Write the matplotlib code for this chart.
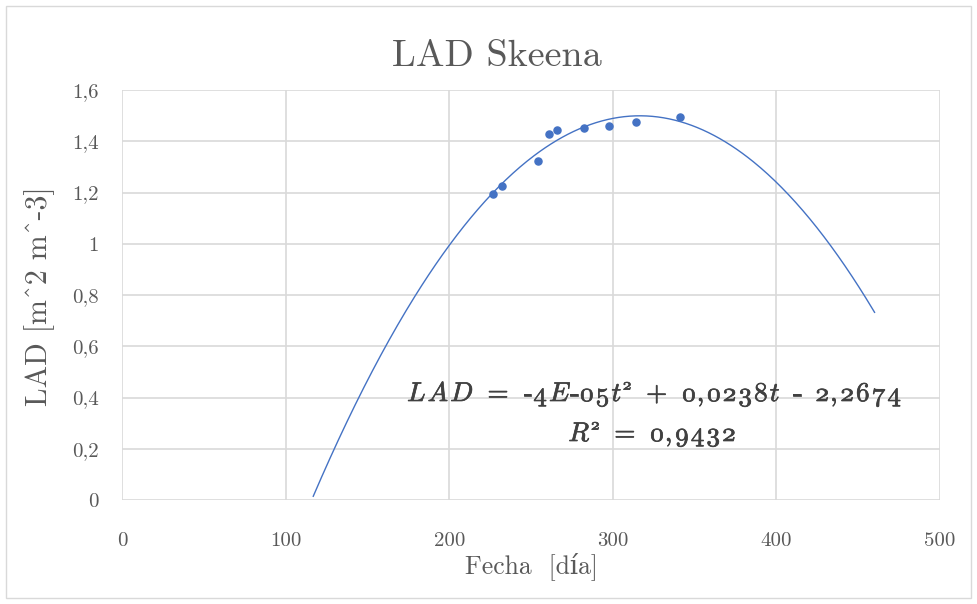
import numpy as np
import matplotlib
matplotlib.use("Agg")
import matplotlib.pyplot as plt
import matplotlib.patheffects as pe
from matplotlib.patches import Rectangle

# datos
fecha = [226.9, 232.3, 254.5, 261.0, 266.1, 282.4, 297.5, 314.0, 341.0]
lad = [1.194, 1.227, 1.323, 1.428, 1.444, 1.453, 1.459, 1.474, 1.496]

x_ticks = [0, 100, 200, 300, 400, 500]
y_ticks = [0, 0.2, 0.4, 0.6, 0.8, 1.0, 1.2, 1.4, 1.6]
y_tick_labels = ["0", "0,2", "0,4", "0,6", "0,8", "1", "1,2", "1,4", "1,6"]

# ecuacion de la linea de tendencia (texto, fuente, superindice, espacio antes en em)
IT, RM = 'cmmi10', 'cmr10'
ecuacion_1 = [("LAD", IT, False, 0), ("=", RM, False, 0.55), ("-", RM, False, 0.55),
              ("4E", IT, False, 0.04), ("-", RM, False, 0.04), ("05t", IT, False, 0.04),
              ("2", IT, True, 0.06), ("+", RM, False, 0.55), ("0", IT, False, 0.55),
              (",", RM, False, 0.04), ("0238t", IT, False, 0.1), ("-", RM, False, 0.5),
              ("2", IT, False, 0.5), (",", RM, False, 0.04), ("2674", IT, False, 0.1)]
ecuacion_2 = [("R", IT, False, 0), ("2", IT, True, 0.08), ("=", RM, False, 0.55),
              ("0", IT, False, 0.55), (",", RM, False, 0.04), ("9432", IT, False, 0.1)]

plt.rcParams['font.family'] = ['cmr10', 'DejaVu Serif']
plt.rcParams['axes.unicode_minus'] = False

gris = '#595959'
oscuro = '#404040'
azul = '#4472C4'
rejilla = '#d9d9d9'
W, H = 977, 604

fig = plt.figure(figsize=(W / 100, H / 100), dpi=100)
fig.patches.append(Rectangle((6 / W, 6 / H), 965 / W, 592 / H,
                             transform=fig.transFigure, fill=False,
                             edgecolor=rejilla, linewidth=1))

ax = fig.add_axes([122 / W, 104 / H, 818 / W, 410 / H])
ax.set_xlim(0, 500)
ax.set_ylim(0, 1.6)
ax.set_xticks(x_ticks)
ax.set_xticklabels([str(v) for v in x_ticks])
ax.set_yticks(y_ticks)
ax.set_yticklabels(y_tick_labels)
ax.tick_params(length=0, labelsize=15, colors=gris)
ax.tick_params(axis='x', pad=23)
ax.tick_params(axis='y', pad=17)
ax.grid(True, color=rejilla, linewidth=1.2)
ax.set_axisbelow(True)
for s in ax.spines.values():
    s.set_visible(False)

# linea de tendencia polinomica (orden 2), como en Excel
coef = np.polyfit(fecha, lad, 2)
t = np.linspace(min(fecha) - 110, max(fecha) + 119, 400)
y = np.polyval(coef, t)
m = y >= 0
ax.plot(t[m], y[m], color=azul, linewidth=1.0, clip_on=False)
ax.scatter(fecha, lad, s=26, color=azul, zorder=3)

fig.text(497 / W, 1 - 56 / H, "LAD Skeena", ha='center', va='center',
         fontsize=27.5, color=gris)
fig.text(40 / W, 1 - 296 / H, "LAD [m^2 m^-3]", ha='center', va='center',
         rotation=90, fontsize=21.5, color=gris)
fig.text(531 / W, 1 - 566 / H, "Fecha  [día]", ha='center', va='center',
         fontsize=18.5, color=gris)

efecto = [pe.withStroke(linewidth=0.5, foreground=oscuro)]


def texto_mixto(xc, base, partes, fs, tracking=0.08):
    r = fig.canvas.get_renderer()
    em = fs * 100 / 72
    piezas = []
    for s, fam, sup, gap in partes:
        for i, ch in enumerate(s):
            tx = fig.text(0, 0, ch, family=fam, fontsize=fs * 0.62 if sup else fs,
                          color=oscuro, ha='left', va='baseline', path_effects=efecto)
            w = tx.get_window_extent(r).width
            g = gap if i == 0 else tracking
            piezas.append((tx, sup, g * em, w))
    total = sum(g + w for _, _, g, w in piezas)
    x = xc - total / 2
    for tx, sup, g, w in piezas:
        x += g
        dy = 0.42 * em if sup else 0
        tx.set_position((x / W, 1 - (base - dy) / H))
        x += w


texto_mixto(654, 401, ecuacion_1, 19.5)
texto_mixto(652, 441, ecuacion_2, 19.5)

fig.savefig("out.png", dpi=100)
